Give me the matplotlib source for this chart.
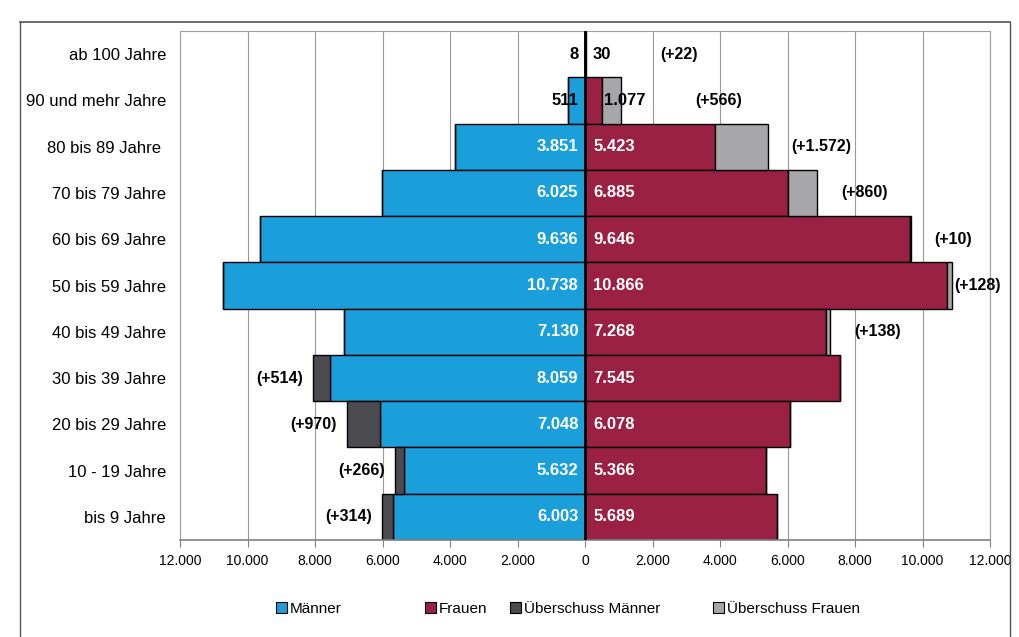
import matplotlib
matplotlib.use("Agg")
import matplotlib.pyplot as plt
from matplotlib.patches import Patch
from matplotlib.ticker import FuncFormatter

plt.rcParams["font.family"] = ["Liberation Sans", "DejaVu Sans"]

# Altersgruppen von oben nach unten
groups = ["ab 100 Jahre", "90 und mehr Jahre", "80 bis 89 Jahre ", "70 bis 79 Jahre",
          "60 bis 69 Jahre", "50 bis 59 Jahre", "40 bis 49 Jahre", "30 bis 39 Jahre",
          "20 bis 29 Jahre", "10 - 19 Jahre", "bis 9 Jahre"]
maenner = [8, 511, 3851, 6025, 9636, 10738, 7130, 8059, 7048, 5632, 6003]
frauen = [30, 1077, 5423, 6885, 9646, 10866, 7268, 7545, 6078, 5366, 5689]

legend_labels = ["Männer", "Frauen", "Überschuss Männer", "Überschuss Frauen"]

c_m = "#1a9fdb"
c_f = "#9a2143"
c_um = "#4b4b50"
c_uf = "#a7a7a9"


def de(v):
    return f"{v:,.0f}".replace(",", ".")


fig = plt.figure(figsize=(10.2, 6.37), dpi=100)
ax = fig.add_axes([180 / 1020, 1 - 540 / 637, 810 / 1020, 509 / 637])

n = len(groups)
ys = list(range(n))[::-1]
common = [min(m, f) for m, f in zip(maenner, frauen)]
ueb_m = [max(m - f, 0) for m, f in zip(maenner, frauen)]
ueb_f = [max(f - m, 0) for m, f in zip(maenner, frauen)]

kw = dict(height=1.0, edgecolor="black", linewidth=1.0, zorder=2)
ax.barh(ys, [-c for c in common], color=c_m, **kw)
ax.barh(ys, [-u for u in ueb_m], left=[-c for c in common], color=c_um, **kw)
ax.barh(ys, common, color=c_f, **kw)
ax.barh(ys, ueb_f, left=common, color=c_uf, **kw)

for i, y in enumerate(ys):
    col = "black" if maenner[i] < 2000 else "white"
    ax.text(-200, y, de(maenner[i]), ha="right", va="center", color=col,
            fontsize=12, fontweight="bold", zorder=4)
    fx = 560 if 100 < frauen[i] < 2000 else 240
    ax.text(fx, y, de(frauen[i]), ha="left", va="center", color=col,
            fontsize=12, fontweight="bold", zorder=4)
    if ueb_f[i] > 0:
        pad = 2200 if frauen[i] < 2000 else 700
        x = min(frauen[i] + pad, 10950)
        ax.text(x, y, "(+" + de(ueb_f[i]) + ")", ha="left", va="center",
                fontsize=11.5, fontweight="bold", zorder=4)
    if ueb_m[i] > 0:
        ax.text(-maenner[i] - 300, y, "(+" + de(ueb_m[i]) + ")", ha="right", va="center",
                fontsize=11.5, fontweight="bold", zorder=4)

ax.axvline(0, color="black", linewidth=2, zorder=3)
ax.set_xlim(-12000, 12000)
ax.set_ylim(-0.5, n - 0.5)
ax.set_xticks(range(-12000, 12001, 2000))
ax.xaxis.set_major_formatter(FuncFormatter(lambda v, p: de(abs(v))))
ax.set_yticks(ys)
ax.set_yticklabels(groups, fontsize=12)
ax.tick_params(axis="y", length=0, pad=10)
ax.tick_params(axis="x", length=5, color="#808080", labelsize=10, pad=5)
ax.grid(axis="x", color="#9a9a9a", linewidth=0.8, zorder=0)
for s in ["top", "left", "right"]:
    ax.spines[s].set_color("#a0a0a0")
    ax.spines[s].set_linewidth(0.8)
ax.spines["bottom"].set_color("#808080")
ax.spines["bottom"].set_linewidth(1.2)

# Legende: jeder Eintrag einzeln, wie im Original ungleich verteilt
leg_x = [276, 425, 510, 713]
for c, lab, lx in zip((c_m, c_f, c_um, c_uf), legend_labels, leg_x):
    h = Patch(facecolor=c, edgecolor="black", linewidth=0.8)
    lg = fig.legend([h], [lab], loc="center left", bbox_to_anchor=(lx / 1020, 1 - 609 / 637),
                    frameon=False, fontsize=11, handlelength=0.7, handleheight=0.7,
                    handletextpad=0.2, borderpad=0, borderaxespad=0)

# aeusserer Rahmen
fig.add_artist(plt.Line2D([20 / 1020, 1010 / 1020], [1 - 22 / 637] * 2, color="#555555", linewidth=1.2))
fig.add_artist(plt.Line2D([20 / 1020] * 2, [0, 1 - 22 / 637], color="#555555", linewidth=1.0))
fig.add_artist(plt.Line2D([1010 / 1020] * 2, [0, 1 - 22 / 637], color="#555555", linewidth=1.0))

fig.savefig("out.png", dpi=100)
